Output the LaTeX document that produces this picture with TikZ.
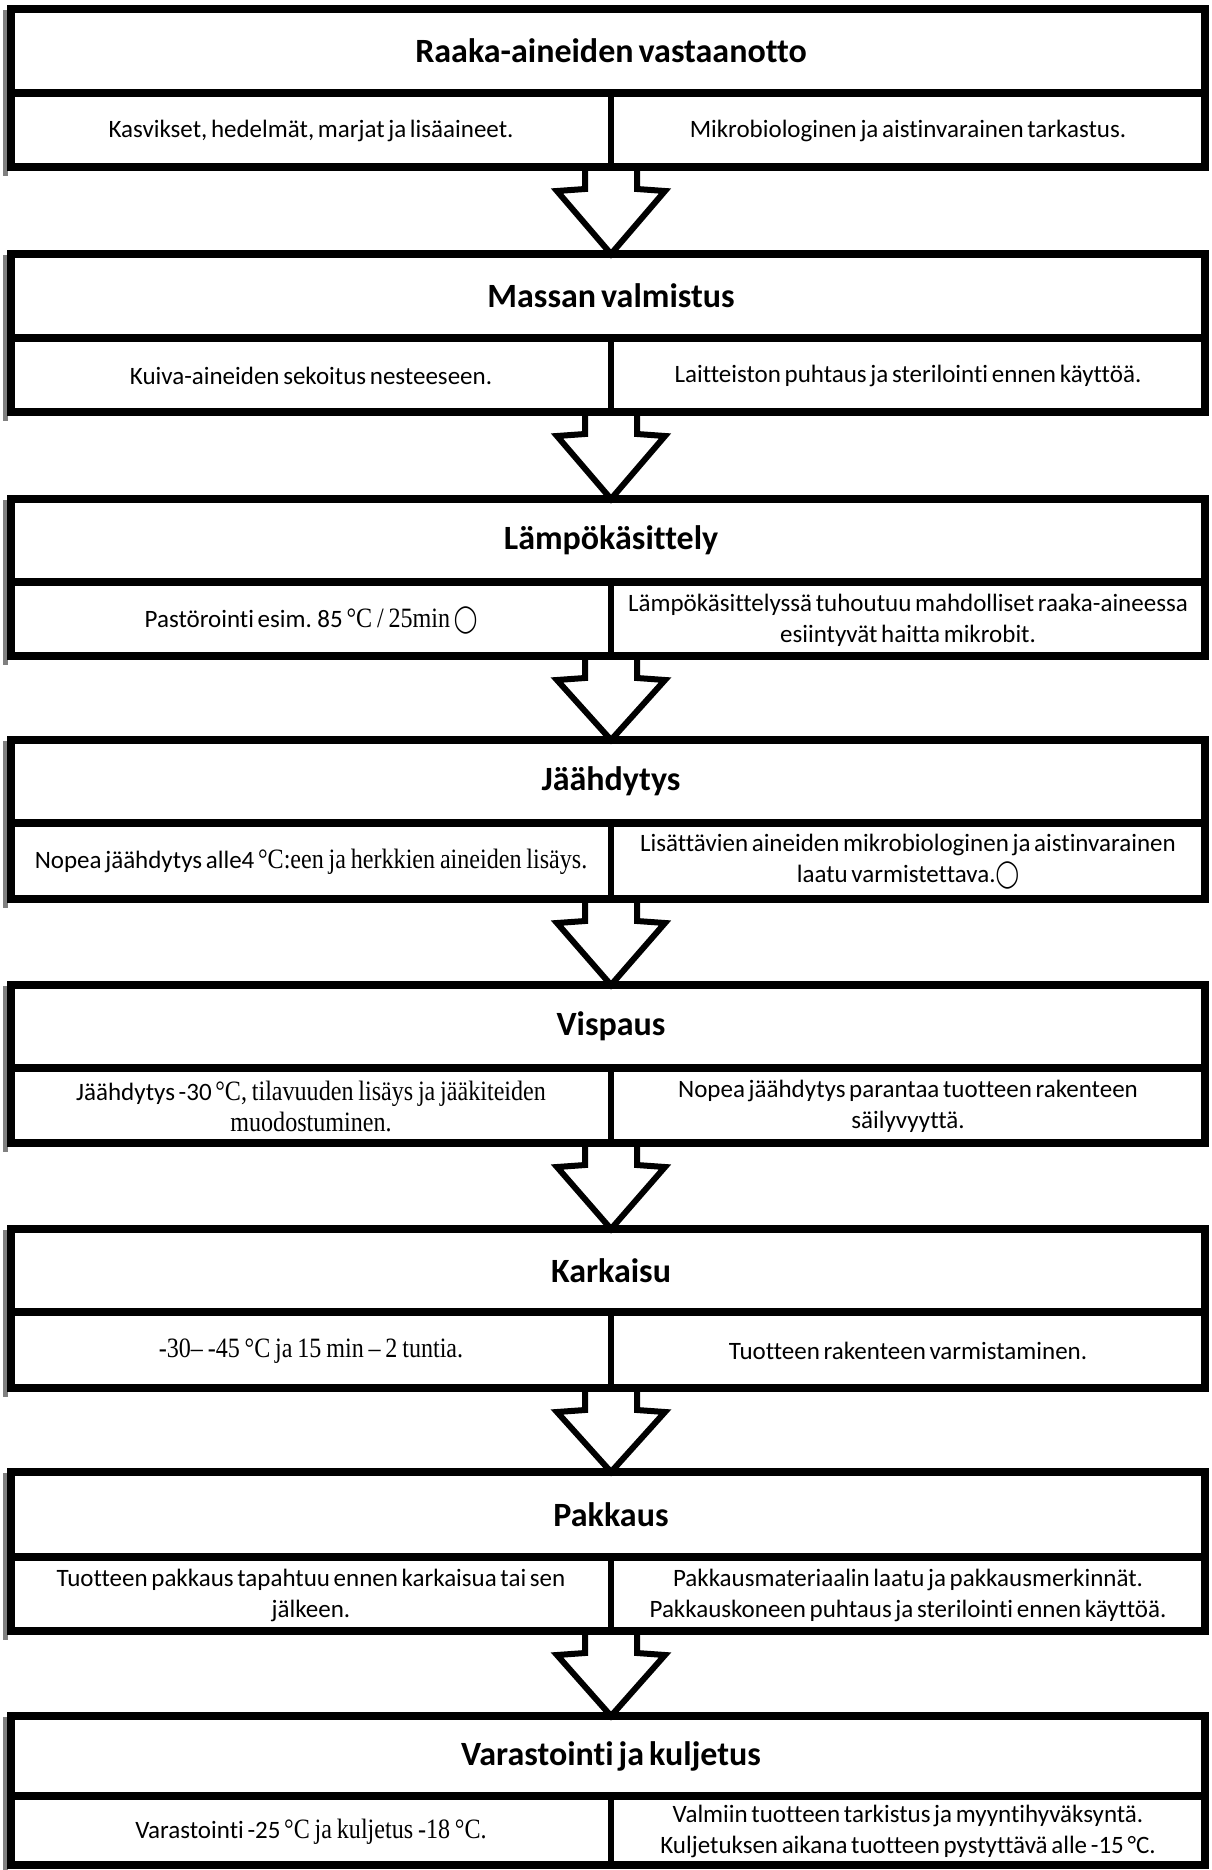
\documentclass[tikz,border=0pt]{standalone}
\usepackage{fontspec}
\usepackage{graphicx}
\setmainfont{Carlito}[WordSpace=0.65,Ligatures={NoCommon,TeX}]
\newfontfamily\tms{Liberation Serif}[FakeStretch=0.86,WordSpace=0.8,Ligatures=NoCommon]
\newfontfamily\djv{DejaVu Sans}
\usetikzlibrary{calc}
\newcommand{\tm}[1]{{\tms\fontsize{28}{31}\selectfont #1}}
\newcommand{\circsym}{{\djv\fontsize{27}{31}\selectfont\scalebox{0.78}[1]{◯}}}
\definecolor{barcol}{RGB}{128,128,128}
\tikzset{
  cellbox/.style={inner sep=0pt, outer sep=0pt, draw=none},
  hdrtxt/.style={inner sep=0pt, font=\bfseries\fontsize{34}{40}\selectfont},
  subtxt/.style={inner sep=0pt, align=center, font=\fontsize{25}{31}\selectfont},
  outerline/.style={line width=7.5pt, line join=miter, black},
  divline/.style={line width=5.5pt, black},
  arrowst/.style={line width=6pt, line join=miter, draw=black, fill=white},
  graybar/.style={fill=barcol, draw=none}
}
% #1 id, #2 top, #3 header height, #4 sub height, #5 header, #6 left text, #7 right text
\newcommand{\stagebox}[7]{%
  \node[cellbox, minimum width=1194pt, minimum height=#3pt] (h#1) at (608,{#2+#3/2}) {};
  \node[cellbox, minimum width=600pt, minimum height=#4pt] (l#1) at (311,{#2+#3+#4/2}) {};
  \node[cellbox, minimum width=594pt, minimum height=#4pt] (r#1) at (908,{#2+#3+#4/2}) {};
  \node[hdrtxt] (ht#1) at ([xshift=3pt]h#1.center) {#5};
  \node[subtxt] (lt#1) at ([yshift=-1pt]l#1.center) {#6};
  \node[subtxt] (rt#1) at ([yshift=-1pt]r#1.center) {#7};
}
\newcommand{\stagelines}[1]{%
  \fill[graybar] ([xshift=-8pt,yshift=-1pt]h#1.north west) rectangle ([xshift=-3pt,yshift=-9pt]l#1.south west);
  \draw[outerline] (h#1.north west) rectangle (r#1.south east);
  \draw[outerline] (h#1.south west) -- (h#1.south east);
  \draw[divline] (l#1.north east) -- (l#1.south east);
}
\newcommand{\flowarrow}[2]{%
  \coordinate (as#1) at (l#1.south east);
  \filldraw[arrowst] ($(as#1)+(-26,0)$) -- ($(as#1)+(-26,22)$) -- ($(as#1)+(-54,24)$)
    -- (as#1 |- h#2.north) -- ($(as#1)+(54,24)$) -- ($(as#1)+(26,22)$) -- ($(as#1)+(26,0)$);
}
\begin{document}
\begin{tikzpicture}[x=1pt,y=-1pt]
\useasboundingbox[fill=white] (0,0) rectangle (1211,1870);

\stagebox{1}{9}{84}{74}{Raaka-aineiden vastaanotto}
  {Kasvikset, hedelmät, marjat ja lisäaineet.}
  {Mikrobiologinen ja aistinvarainen tarkastus.}
\stagebox{2}{254}{84}{74}{Massan valmistus}
  {Kuiva-aineiden sekoitus nesteeseen.}
  {Laitteiston puhtaus ja sterilointi ennen käyttöä.}
\stagebox{3}{499}{83}{74}{Lämpökäsittely}
  {Pastörointi esim. 85 \tm{°C / 25min} \circsym}
  {Lämpökäsittelyssä tuhoutuu mahdolliset raaka-aineessa\\esiintyvät haitta mikrobit.}
\stagebox{4}{740}{83}{76}{Jäähdytys}
  {Nopea jäähdytys alle4 \tm{°C:een ja herkkien aineiden lisäys.}}
  {Lisättävien aineiden mikrobiologinen ja aistinvarainen\\laatu varmistettava.\circsym}
\stagebox{5}{985}{83}{75}{Vispaus}
  {Jäähdytys -30 \tm{°C, tilavuuden lisäys ja jääkiteiden}\\\tm{muodostuminen.}}
  {Nopea jäähdytys parantaa tuotteen rakenteen\\säilyvyyttä.}
\stagebox{6}{1229}{83}{76}{Karkaisu}
  {\tm{-30– -45 °C ja 15 min – 2 tuntia.}}
  {Tuotteen rakenteen varmistaminen.}
\stagebox{7}{1472}{85}{74}{Pakkaus}
  {Tuotteen pakkaus tapahtuu ennen karkaisua tai sen\\jälkeen.}
  {Pakkausmateriaalin laatu ja pakkausmerkinnät.\\Pakkauskoneen puhtaus ja sterilointi ennen käyttöä.}
\stagebox{8}{1716}{80}{69}{Varastointi ja kuljetus}
  {Varastointi -25 \tm{°C ja kuljetus -18 °C.}}
  {Valmiin tuotteen tarkistus ja myyntihyväksyntä.\\Kuljetuksen aikana tuotteen pystyttävä alle -15 °C.}

\flowarrow{1}{2}
\flowarrow{2}{3}
\flowarrow{3}{4}
\flowarrow{4}{5}
\flowarrow{5}{6}
\flowarrow{6}{7}
\flowarrow{7}{8}

\stagelines{1}
\stagelines{2}
\stagelines{3}
\stagelines{4}
\stagelines{5}
\stagelines{6}
\stagelines{7}
\stagelines{8}
\end{tikzpicture}
\end{document}
